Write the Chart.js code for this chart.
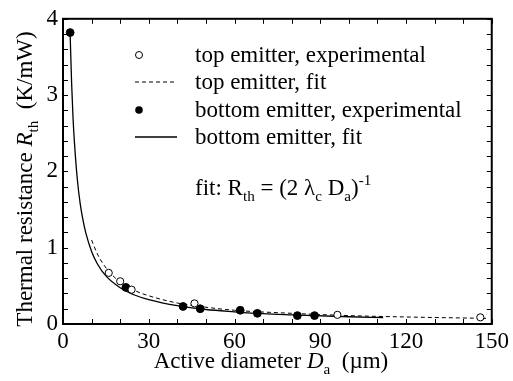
<!DOCTYPE html>
<html>
<head>
<meta charset="utf-8">
<script src="https://cdn.jsdelivr.net/npm/chart.js@4.4.1/dist/chart.umd.min.js"></script>
<style>
  html, body { margin: 0; padding: 0; background: #fff; }
  canvas { display: block; }
</style>
</head>
<body>
<canvas id="rthChart" width="513" height="381"></canvas>
<script>
// measured points (active diameter in um, Rth in K/mW)
const topD = [16, 20, 24, 46, 96, 146];
const topR = [0.67, 0.56, 0.45, 0.27, 0.12, 0.087];
const botD = [2.5, 22, 42, 48, 62, 68, 82, 88];
const botR = [3.82, 0.48, 0.23, 0.20, 0.18, 0.14, 0.11, 0.11];

// fitted curves
const topFitD = [10, 12, 14, 17, 20, 25, 30, 40, 50, 60, 80, 100, 120, 148];
const topFitR = [1.10, 0.92, 0.79, 0.65, 0.55, 0.44, 0.37, 0.275, 0.22, 0.18, 0.14, 0.11, 0.092, 0.074];
const botFitD = [2.5, 3, 3.5, 4, 5, 6, 7, 8, 10, 12, 15, 20, 25, 30, 40, 50, 60, 70, 80, 100, 112];
const botFitR = [3.8, 3.17, 2.71, 2.38, 1.9, 1.58, 1.36, 1.19, 0.95, 0.79, 0.63, 0.475, 0.38, 0.32, 0.24, 0.19, 0.16, 0.135, 0.12, 0.095, 0.085];

// axis ticks
const xTicks = [0, 30, 60, 90, 120, 150];
const yTicks = [0, 1, 2, 3, 4];

const SERIF = '"Liberation Serif", "Times New Roman", serif';

function pts(xs, ys) {
    return xs.map((x, i) => ({ x: x, y: ys[i] }));
}

// draws a run of text pieces; each piece may be italic, sub- or superscript
function richText(ctx, x, y, parts, size) {
    let cx = x;
    parts.forEach(p => {
        let fs = (p.sub || p.sup) ? size * 0.66 : size;
        let dy = p.sub ? size * 0.28 : (p.sup ? -size * 0.42 : 0);
        ctx.font = (p.it ? 'italic ' : '') + fs + 'px ' + SERIF;
        ctx.fillText(p.t, cx, y + dy);
        cx += ctx.measureText(p.t).width;
    });
    return cx - x;
}

function richWidth(ctx, parts, size) {
    let w = 0;
    parts.forEach(p => {
        let fs = (p.sub || p.sup) ? size * 0.66 : size;
        ctx.font = (p.it ? 'italic ' : '') + fs + 'px ' + SERIF;
        w += ctx.measureText(p.t).width;
    });
    return w;
}

const decorations = {
    id: 'decorations',
    afterDraw(chart) {
        const ctx = chart.ctx;
        const a = chart.chartArea;
        const xs = chart.scales.x, ys = chart.scales.y;
        ctx.save();
        ctx.strokeStyle = '#000';
        ctx.fillStyle = '#000';

        // inward ticks on all four sides
        ctx.lineWidth = 1;
        ctx.beginPath();
        for (let v = 0; v <= 150; v += 10) {
            let px = Math.round(xs.getPixelForValue(v)) + 0.5;
            ctx.moveTo(px, a.bottom); ctx.lineTo(px, a.bottom - 5);
            ctx.moveTo(px, a.top); ctx.lineTo(px, a.top + 5);
        }
        for (let i = 0; i <= 20; i++) {
            let py = Math.round(ys.getPixelForValue(i * 0.2)) + 0.5;
            ctx.moveTo(a.left, py); ctx.lineTo(a.left + 5, py);
            ctx.moveTo(a.right, py); ctx.lineTo(a.right - 5, py);
        }
        ctx.stroke();

        // frame
        ctx.lineWidth = 2;
        ctx.strokeRect(a.left, a.top, a.right - a.left, a.bottom - a.top);

        // legend
        const rows = [55, 82, 110, 137];
        const labels = ['top emitter, experimental', 'top emitter, fit',
                        'bottom emitter, experimental', 'bottom emitter, fit'];
        ctx.lineWidth = 1;
        ctx.beginPath();
        ctx.arc(139, rows[0], 3.5, 0, Math.PI * 2);
        ctx.stroke();
        ctx.setLineDash([4, 3]);
        ctx.beginPath();
        ctx.moveTo(135, rows[1]); ctx.lineTo(177, rows[1]);
        ctx.stroke();
        ctx.setLineDash([]);
        ctx.beginPath();
        ctx.arc(139, rows[2], 3.8, 0, Math.PI * 2);
        ctx.fill();
        ctx.lineWidth = 1.3;
        ctx.beginPath();
        ctx.moveTo(135, rows[3]); ctx.lineTo(177, rows[3]);
        ctx.stroke();

        ctx.font = '23px ' + SERIF;
        ctx.textBaseline = 'alphabetic';
        ctx.textAlign = 'left';
        labels.forEach((s, i) => ctx.fillText(s, 195, rows[i] + 7));

        // fit formula
        richText(ctx, 195, 195, [
            { t: 'fit: R' }, { t: 'th', sub: true }, { t: ' = (2 \u03bb' },
            { t: 'c', sub: true }, { t: ' D' }, { t: 'a', sub: true },
            { t: ')' }, { t: '-1', sup: true }
        ], 23);

        // x axis title
        const xTitle = [{ t: 'Active diameter ' }, { t: 'D', it: true },
                        { t: 'a', sub: true }, { t: '  (\u00b5m)' }];
        let w = richWidth(ctx, xTitle, 23);
        richText(ctx, 271 - w / 2, 368, xTitle, 23);

        // y axis title, rotated
        const yTitle = [{ t: 'Thermal resistance ' }, { t: 'R', it: true },
                        { t: 'th', sub: true }, { t: '  (K/mW)' }];
        w = richWidth(ctx, yTitle, 23);
        ctx.translate(32, 179);
        ctx.rotate(-Math.PI / 2);
        richText(ctx, -w / 2, 0, yTitle, 23);

        ctx.restore();
    }
};

new Chart(document.getElementById('rthChart'), {
    type: 'scatter',
    data: {
        datasets: [
            {
                label: 'top emitter, experimental',
                data: pts(topD, topR),
                pointRadius: 3.6,
                pointBackgroundColor: '#fff',
                pointBorderColor: '#000',
                pointBorderWidth: 1,
                showLine: false
            },
            {
                label: 'bottom emitter, experimental',
                data: pts(botD, botR),
                pointRadius: 3.9,
                pointBackgroundColor: '#000',
                pointBorderColor: '#000',
                pointBorderWidth: 1,
                showLine: false
            },
            {
                label: 'top emitter, fit',
                data: pts(topFitD, topFitR),
                showLine: true,
                pointRadius: 0,
                borderColor: '#000',
                borderWidth: 1,
                borderDash: [4, 3],
                cubicInterpolationMode: 'monotone'
            },
            {
                label: 'bottom emitter, fit',
                data: pts(botFitD, botFitR),
                showLine: true,
                pointRadius: 0,
                borderColor: '#000',
                borderWidth: 1.3,
                cubicInterpolationMode: 'monotone'
            }
        ]
    },
    options: {
        responsive: false,
        animation: false,
        devicePixelRatio: 1,
        layout: { padding: { top: 16, right: 19, left: 0, bottom: 0 } },
        plugins: {
            legend: { display: false },
            tooltip: { enabled: false }
        },
        scales: {
            x: {
                type: 'linear',
                min: 0, max: 150,
                afterBuildTicks: s => { s.ticks = xTicks.map(v => ({ value: v })); },
                afterFit: s => { s.height = 57; },
                grid: { display: false, drawTicks: false },
                border: { display: false },
                ticks: {
                    color: '#000',
                    padding: 4,
                    autoSkip: false,
                    maxRotation: 0,
                    font: { family: SERIF, size: 23 }
                }
            },
            y: {
                type: 'linear',
                min: 0, max: 4,
                afterBuildTicks: s => { s.ticks = yTicks.map(v => ({ value: v })); },
                afterFit: s => { s.width = 63; },
                grid: { display: false, drawTicks: false },
                border: { display: false },
                ticks: {
                    color: '#000',
                    padding: 5,
                    autoSkip: false,
                    font: { family: SERIF, size: 23 }
                }
            }
        }
    },
    plugins: [decorations]
});
</script>
</body>
</html>
